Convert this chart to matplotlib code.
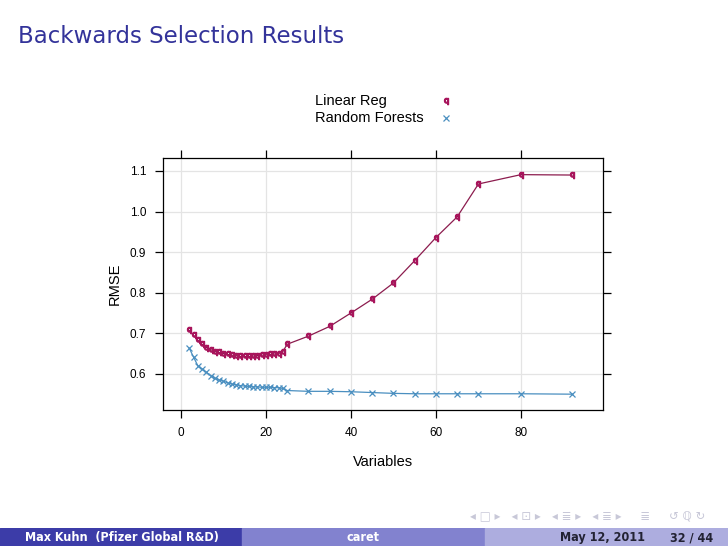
import numpy as np
import matplotlib.pyplot as plt

plt.rcParams["font.family"] = ["Liberation Sans", "DejaVu Sans"]

# number of variables kept at each step of the backwards selection
variables = [2, 3, 4, 5, 6, 7, 8, 9, 10, 11, 12, 13, 14, 15, 16, 17, 18, 19, 20,
             21, 22, 23, 24, 25, 30, 35, 40, 45, 50, 55, 60, 65, 70, 80, 92]

lm_rmse = [0.707, 0.695, 0.683, 0.673, 0.665, 0.660, 0.655, 0.653, 0.650, 0.648,
           0.646, 0.645, 0.643, 0.643, 0.643, 0.644, 0.645, 0.646, 0.647, 0.648,
           0.649, 0.650, 0.655, 0.673, 0.693, 0.717, 0.750, 0.784, 0.824, 0.879,
           0.936, 0.987, 1.068, 1.091, 1.090]

rf_rmse = [0.663, 0.641, 0.620, 0.612, 0.604, 0.596, 0.589, 0.585, 0.582, 0.578,
           0.575, 0.573, 0.571, 0.570, 0.569, 0.568, 0.568, 0.567, 0.567, 0.567,
           0.566, 0.566, 0.564, 0.559, 0.557, 0.557, 0.556, 0.554, 0.552, 0.551,
           0.551, 0.551, 0.551, 0.551, 0.550]

xticks = [0, 20, 40, 60, 80]
yticks = [0.6, 0.7, 0.8, 0.9, 1.0, 1.1]

lm_col = "#8c1c4e"
lm_pt = "#a8155c"
rf_col = "#4a8fc0"
title_col = "#33339a"
qmark = r"$\mathsf{q}$"

fig = plt.figure(figsize=(7.28, 5.46), dpi=100)

# slide title
fig.text(18 / 728, 1 - 43 / 546, "Backwards Selection Results", color=title_col,
         fontsize=16.5, family="DejaVu Sans", va="baseline", ha="left")

ax = fig.add_axes([163 / 728, 1 - 410 / 546, 440 / 728, 252 / 546])
ax.plot(variables, lm_rmse, color=lm_col, lw=0.9, zorder=3)
ax.plot(variables, lm_rmse, ls="none", marker=qmark, ms=4.5, color=lm_pt, zorder=4)
ax.plot(variables, rf_rmse, color=rf_col, lw=0.9, zorder=3)
ax.plot(variables, rf_rmse, ls="none", marker="x", ms=5, mew=0.9, color=rf_col, zorder=4)

ax.set_xlim(-4.2, 99.3)
ax.set_ylim(0.511, 1.132)
ax.set_xticks(xticks)
ax.set_yticks(yticks)
ax.set_yticklabels(["%.1f" % v for v in yticks])
ax.grid(True, color="#e4e4e4", lw=0.9)
ax.set_axisbelow(True)
ax.tick_params(direction="out", length=6, width=0.9, labelsize=8.5, pad=6,
               top=True, right=True, labeltop=False, labelright=False)
for s in ax.spines.values():
    s.set_linewidth(0.9)

ax.set_xlabel("Variables", fontsize=10.5, labelpad=12)
ax.set_ylabel("RMSE", fontsize=10.5, labelpad=6)

# key on top, lattice style
fig.text(315 / 728, 1 - 101 / 546, "Linear Reg", fontsize=10.5, va="center", ha="left")
fig.text(315 / 728, 1 - 118 / 546, "Random Forests", fontsize=10.5, va="center", ha="left")
kx = fig.add_axes([440 / 728, 1 - 125 / 546, 12 / 728, 30 / 546])
kx.set_xlim(0, 1)
kx.set_ylim(0, 1)
kx.axis("off")
kx.plot([0.5], [0.8], marker=qmark, ms=4.5, color=lm_pt, ls="none")
kx.plot([0.5], [0.23], marker="x", ms=5, mew=0.9, color=rf_col, ls="none")

# navigation symbols
fig.text(470 / 728, 1 - 517 / 546, "◂ □ ▸   ◂ ⊡ ▸   ◂ ≣ ▸   ◂ ≣ ▸     ≣     ↺ ℚ ↻",
         fontsize=8.5, color="#c8c8d8", family="DejaVu Sans", va="center", ha="left")

# footer bar
foot = fig.add_axes([0, 0, 1, 18 / 546])
foot.set_xlim(0, 728)
foot.set_ylim(0, 1)
foot.axis("off")
foot.axvspan(0, 242, color="#3c3ca8")
foot.axvspan(242, 485, color="#8282cf")
foot.axvspan(485, 728, color="#adaddf")
foot.text(122, 0.45, "Max Kuhn  (Pfizer Global R&D)", color="white", fontsize=9,
          family="DejaVu Sans", fontstretch="condensed", fontweight="semibold",
          ha="center", va="center")
foot.text(363, 0.45, "caret", color="white", fontsize=9, family="DejaVu Sans",
          fontstretch="condensed", fontweight="semibold", ha="center", va="center")
foot.text(645, 0.45, "May 12, 2011", color="#222233", fontsize=9, family="DejaVu Sans",
          fontstretch="condensed", fontweight="semibold", ha="right", va="center")
foot.text(713, 0.45, "32 / 44", color="#222233", fontsize=9, family="DejaVu Sans",
          fontstretch="condensed", fontweight="semibold", ha="right", va="center")

fig.savefig("out.png", dpi=100)
